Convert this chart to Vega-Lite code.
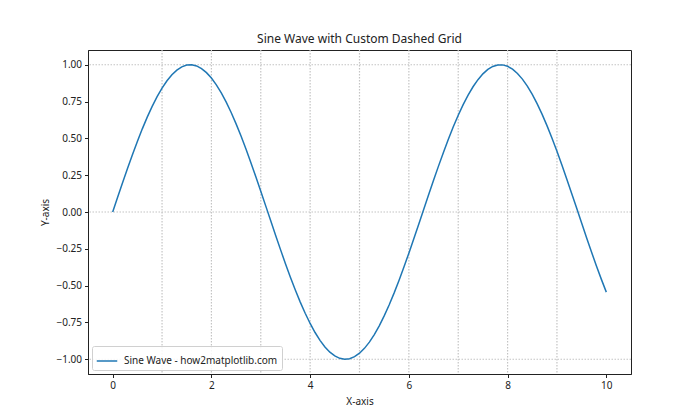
{
  "$schema": "https://vega.github.io/schema/vega-lite/v6.json",
  "width": 543,
  "height": 324,
  "autosize": {"type": "none"},
  "padding": {"left": 88, "top": 50, "right": 69, "bottom": 46},
  "background": "white",
  "config": {
    "font": "Noto Sans",
    "view": {"stroke": "#222", "strokeWidth": 1},
    "axis": {
      "labelFont": "Noto Sans",
      "titleFont": "Noto Sans",
      "labelFontSize": 10,
      "titleFontSize": 10,
      "titleFontWeight": "normal",
      "labelColor": "#222",
      "titleColor": "#222",
      "tickColor": "#222",
      "domainColor": "#222",
      "tickSize": 3.5,
      "labelPadding": 3,
      "grid": false
    }
  },
  "title": {
    "text": "Sine Wave with Custom Dashed Grid",
    "fontSize": 12,
    "fontWeight": "normal",
    "font": "Noto Sans",
    "color": "#222",
    "offset": 3
  },
  "datasets": {
    "wave": [
      {"x":0.0,"y":0.0},{"x":0.1,"y":0.0998},{"x":0.2,"y":0.1987},{"x":0.3,"y":0.2955},{"x":0.4,"y":0.3894},
      {"x":0.5,"y":0.4794},{"x":0.6,"y":0.5646},{"x":0.7,"y":0.6442},{"x":0.8,"y":0.7174},{"x":0.9,"y":0.7833},
      {"x":1.0,"y":0.8415},{"x":1.1,"y":0.8912},{"x":1.2,"y":0.932},{"x":1.3,"y":0.9636},{"x":1.4,"y":0.9854},
      {"x":1.5,"y":0.9975},{"x":1.6,"y":0.9996},{"x":1.7,"y":0.9917},{"x":1.8,"y":0.9738},{"x":1.9,"y":0.9463},
      {"x":2.0,"y":0.9093},{"x":2.1,"y":0.8632},{"x":2.2,"y":0.8085},{"x":2.3,"y":0.7457},{"x":2.4,"y":0.6755},
      {"x":2.5,"y":0.5985},{"x":2.6,"y":0.5155},{"x":2.7,"y":0.4274},{"x":2.8,"y":0.335},{"x":2.9,"y":0.2392},
      {"x":3.0,"y":0.1411},{"x":3.1,"y":0.0416},{"x":3.2,"y":-0.0584},{"x":3.3,"y":-0.1577},{"x":3.4,"y":-0.2555},
      {"x":3.5,"y":-0.3508},{"x":3.6,"y":-0.4425},{"x":3.7,"y":-0.5298},{"x":3.8,"y":-0.6119},{"x":3.9,"y":-0.6878},
      {"x":4.0,"y":-0.7568},{"x":4.1,"y":-0.8183},{"x":4.2,"y":-0.8716},{"x":4.3,"y":-0.9162},{"x":4.4,"y":-0.9516},
      {"x":4.5,"y":-0.9775},{"x":4.6,"y":-0.9937},{"x":4.7,"y":-0.9999},{"x":4.8,"y":-0.9962},{"x":4.9,"y":-0.9825},
      {"x":5.0,"y":-0.9589},{"x":5.1,"y":-0.9258},{"x":5.2,"y":-0.8835},{"x":5.3,"y":-0.8323},{"x":5.4,"y":-0.7728},
      {"x":5.5,"y":-0.7055},{"x":5.6,"y":-0.6313},{"x":5.7,"y":-0.5507},{"x":5.8,"y":-0.4646},{"x":5.9,"y":-0.3739},
      {"x":6.0,"y":-0.2794},{"x":6.1,"y":-0.1822},{"x":6.2,"y":-0.0831},{"x":6.3,"y":0.0168},{"x":6.4,"y":0.1165},
      {"x":6.5,"y":0.2151},{"x":6.6,"y":0.3115},{"x":6.7,"y":0.4048},{"x":6.8,"y":0.4941},{"x":6.9,"y":0.5784},
      {"x":7.0,"y":0.657},{"x":7.1,"y":0.729},{"x":7.2,"y":0.7937},{"x":7.3,"y":0.8504},{"x":7.4,"y":0.8987},
      {"x":7.5,"y":0.938},{"x":7.6,"y":0.9679},{"x":7.7,"y":0.9882},{"x":7.8,"y":0.9985},{"x":7.9,"y":0.9989},
      {"x":8.0,"y":0.9894},{"x":8.1,"y":0.9699},{"x":8.2,"y":0.9407},{"x":8.3,"y":0.9022},{"x":8.4,"y":0.8546},
      {"x":8.5,"y":0.7985},{"x":8.6,"y":0.7344},{"x":8.7,"y":0.663},{"x":8.8,"y":0.5849},{"x":8.9,"y":0.501},
      {"x":9.0,"y":0.4121},{"x":9.1,"y":0.3191},{"x":9.2,"y":0.2229},{"x":9.3,"y":0.1245},{"x":9.4,"y":0.0248},
      {"x":9.5,"y":-0.0752},{"x":9.6,"y":-0.1743},{"x":9.7,"y":-0.2718},{"x":9.8,"y":-0.3665},{"x":9.9,"y":-0.4575},
      {"x":10.0,"y":-0.544}
    ],
    "gridx": [{"gx":1},{"gx":2},{"gx":3},{"gx":4},{"gx":5},{"gx":6},{"gx":7},{"gx":8},{"gx":9}],
    "gridy": [{"gy":-1},{"gy":0},{"gy":1}]
  },
  "layer": [
    {
      "data": {"name": "gridx"},
      "mark": {"type": "rule", "color": "#c4c4c4", "strokeWidth": 1.2, "strokeDash": [1.5, 1.5]},
      "encoding": {
        "x": {"field": "gx", "type": "quantitative", "scale": {"domain": [-0.5, 10.5], "nice": false, "zero": false}}
      }
    },
    {
      "data": {"name": "gridy"},
      "mark": {"type": "rule", "color": "#c4c4c4", "strokeWidth": 1.2, "strokeDash": [1.5, 1.5]},
      "encoding": {
        "y": {"field": "gy", "type": "quantitative", "scale": {"domain": [-1.1, 1.1], "nice": false, "zero": false}}
      }
    },
    {
      "data": {"name": "wave"},
      "transform": [{"calculate": "'Sine Wave - how2matplotlib.com'", "as": "series"}],
      "mark": {"type": "line", "strokeWidth": 1.5, "clip": true},
      "encoding": {
        "x": {
          "field": "x", "type": "quantitative",
          "scale": {"domain": [-0.5, 10.5], "nice": false, "zero": false},
          "axis": {"title": "X-axis", "values": [0, 2, 4, 6, 8, 10], "format": "d", "titlePadding": 6}
        },
        "y": {
          "field": "y", "type": "quantitative",
          "scale": {"domain": [-1.1, 1.1], "nice": false, "zero": false},
          "axis": {"title": "Y-axis", "values": [-1, -0.75, -0.5, -0.25, 0, 0.25, 0.5, 0.75, 1], "format": ".2f", "titlePadding": 5}
        },
        "color": {
          "field": "series", "type": "nominal",
          "scale": {"range": ["#1f77b4"]},
          "legend": {
            "title": null,
            "orient": "bottom-left",
            "offset": 4,
            "symbolType": "stroke",
            "symbolSize": 420,
            "symbolStrokeWidth": 1.5,
            "labelFontSize": 10,
            "labelFont": "Noto Sans",
            "labelColor": "#222",
            "labelOffset": 6,
            "padding": 4,
            "fillColor": "rgba(255,255,255,0.85)",
            "strokeColor": "#d0d0d0",
            "cornerRadius": 2
          }
        }
      }
    }
  ]
}
